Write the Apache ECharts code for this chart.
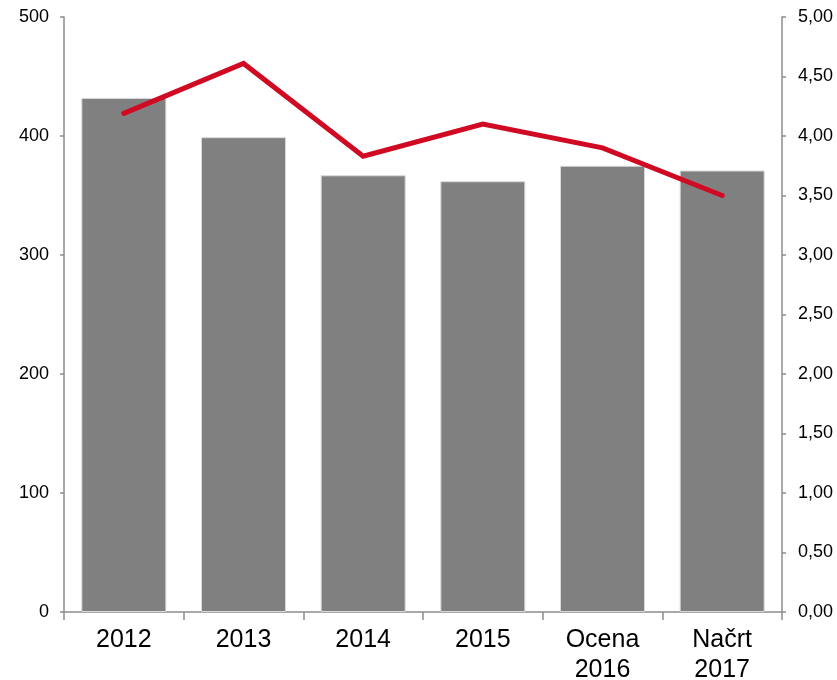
<!DOCTYPE html>
<html>
<head>
<meta charset="utf-8">
<script src="https://cdn.jsdelivr.net/npm/echarts@6/dist/echarts.min.js"></script>
<style>html,body{margin:0;padding:0;background:#fff;}#c{width:837px;height:680px;}</style>
</head>
<body>
<div id="c"></div>
<script>
var categories = ['2012', '2013', '2014', '2015', 'Ocena\n2016', 'Načrt\n2017'];
var barValues = [432, 399, 367, 362, 375, 371];
var lineValues = [4.19, 4.61, 3.83, 4.10, 3.90, 3.50];
var leftTicks = { min: 0, max: 500, interval: 100 };
var rightTicks = { min: 0, max: 5, interval: 0.5 };

var axisGray = '#8c8c8c';
var font = '"Liberation Sans", Arial, sans-serif';
var chart = echarts.init(document.getElementById('c'));
chart.setOption({
  animation: false,
  backgroundColor: '#fff',
  grid: { left: 64, right: 55, top: 17, bottom: 68, containLabel: false, outerBoundsMode: 'none' },
  xAxis: {
    type: 'category',
    data: categories,
    axisLine: { lineStyle: { color: axisGray, width: 1.5 } },
    axisTick: { show: true, length: 8, alignWithLabel: false, lineStyle: { color: axisGray, width: 1.5 } },
    axisLabel: { color: '#000', fontFamily: font, fontSize: 25, lineHeight: 30, margin: 13, interval: 0 }
  },
  yAxis: [{
    type: 'value',
    min: leftTicks.min, max: leftTicks.max, interval: leftTicks.interval,
    axisLine: { show: true, lineStyle: { color: axisGray, width: 1.5 } },
    axisTick: { show: true, length: 4, lineStyle: { color: axisGray, width: 1.5 } },
    splitLine: { show: false },
    axisLabel: { color: '#000', fontFamily: font, fontSize: 18, margin: 15 }
  }, {
    type: 'value',
    position: 'right',
    min: rightTicks.min, max: rightTicks.max, interval: rightTicks.interval,
    axisLine: { show: true, lineStyle: { color: axisGray, width: 1.5 } },
    axisTick: { show: true, length: 4, lineStyle: { color: axisGray, width: 1.5 } },
    splitLine: { show: false },
    axisLabel: { color: '#000', fontFamily: font, fontSize: 18, margin: 16,
      formatter: function (v) { return v.toFixed(2).replace('.', ','); } }
  }],
  series: [{
    type: 'bar',
    data: barValues,
    yAxisIndex: 0,
    barWidth: 85,
    itemStyle: { color: '#808080', borderColor: '#d9d9d9', borderWidth: 1 }
  }, {
    type: 'line',
    data: lineValues,
    yAxisIndex: 1,
    symbol: 'none',
    lineStyle: { color: '#D00A22', width: 5, cap: 'round', join: 'miter' },
    z: 5
  }]
});
</script>
</body>
</html>
